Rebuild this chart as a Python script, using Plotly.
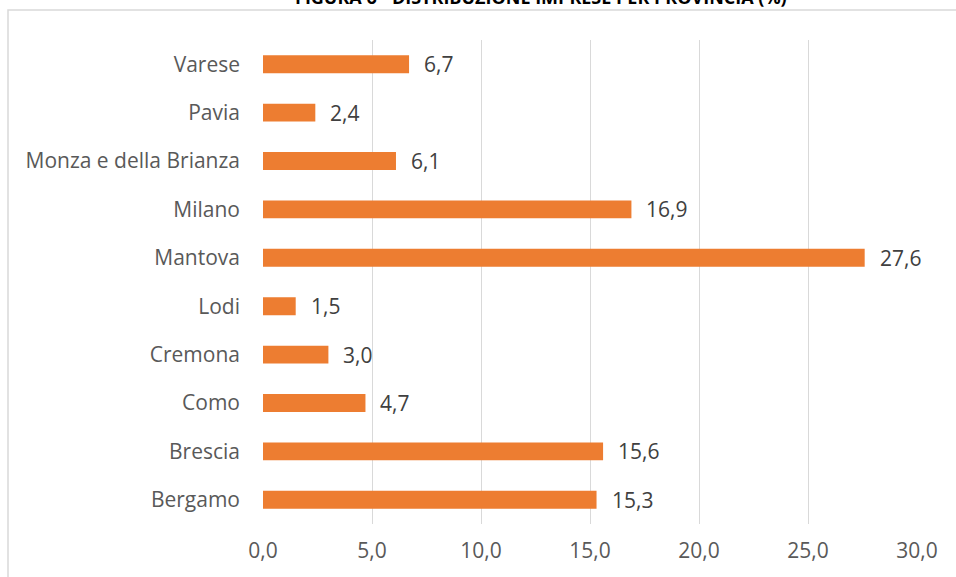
import plotly.graph_objects as go

categories = ["Bergamo", "Brescia", "Como", "Cremona", "Lodi", "Mantova",
              "Milano", "Monza e della Brianza", "Pavia", "Varese"]
values = [15.3, 15.6, 4.7, 3.0, 1.5, 27.6, 16.9, 6.1, 2.4, 6.7]
labels = [f"{v:.1f}".replace(".", ",") for v in values]
tick_vals = [0, 5, 10, 15, 20, 25, 30]
tick_text = [f"{v:.1f}".replace(".", ",") for v in tick_vals]
title = "FIGURA 6 - DISTRIBUZIONE IMPRESE PER PROVINCIA (%)"

FONT = "'Open Sans', sans-serif"
FS = 21

fig = go.Figure(go.Bar(
    x=values, y=categories, orientation="h",
    marker=dict(color="#ED7D31", line=dict(width=0)),
    width=0.37,
    hoverinfo="skip",
))

L, R, T, B = 263, 39, 40, 53
W, H = 956, 577
pw, ph = W - L - R, H - T - B

def px_x(p):
    return (p - L) / pw

def px_y(p):
    return (H - B - p) / ph

annotations = [dict(x=v, y=c, text=t, xref="x", yref="y", xanchor="left",
                    yanchor="middle", xshift=13, showarrow=False,
                    font=dict(family=FONT, size=FS, color="#404040"))
               for v, c, t in zip(values, categories, labels)]
annotations.append(dict(text=f"<b>{title}</b>", xref="paper", yref="paper",
                        x=px_x(541), y=px_y(11), xanchor="center", yanchor="bottom",
                        showarrow=False,
                        font=dict(family=FONT, size=18, color="#000000")))

fig.update_layout(
    width=W, height=H,
    margin=dict(l=L, r=R, t=T, b=B, pad=0),
    paper_bgcolor="white", plot_bgcolor="white",
    showlegend=False,
    font=dict(family=FONT, size=FS, color="#595959"),
    xaxis=dict(range=[0, 30], tickvals=tick_vals, ticktext=tick_text,
               showgrid=True, gridcolor="#d9d9d9", gridwidth=1,
               zeroline=False, showline=False, ticks="",
               ticklabelstandoff=12,
               tickfont=dict(family=FONT, size=FS, color="#595959"),
               fixedrange=True),
    yaxis=dict(categoryorder="array", categoryarray=categories,
               showgrid=False, zeroline=False, showline=False, ticks="",
               ticklabelstandoff=22,
               tickfont=dict(family=FONT, size=FS, color="#595959"),
               fixedrange=True),
    shapes=[dict(type="rect", xref="paper", yref="paper",
                 x0=px_x(8), x1=px_x(1000), y0=px_y(620), y1=px_y(10),
                 line=dict(color="#d9d9d9", width=1.5), fillcolor="rgba(0,0,0,0)",
                 layer="below")],
    annotations=annotations,
)

fig.write_html("out.html", config={"displayModeBar": False},
               post_script="document.body.style.margin='0';document.body.style.overflow='hidden';")
